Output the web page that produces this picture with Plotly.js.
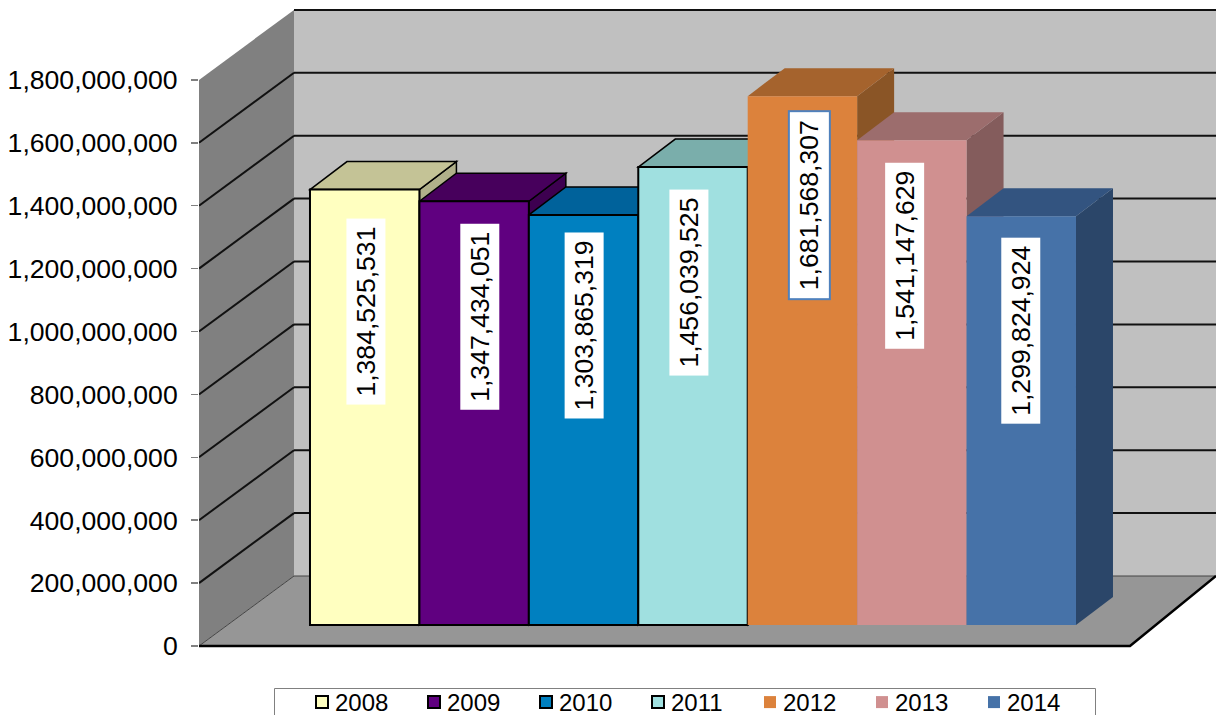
<!DOCTYPE html>
<html><head><meta charset="utf-8">
<script src="https://cdn.plot.ly/plotly-3.0.0.min.js"></script>
<style>html,body{margin:0;padding:0;background:#fff;overflow:hidden}</style>
</head><body><div id="chart" style="width:1216px;height:715px"></div>
<script>
const years = [2008, 2009, 2010, 2011, 2012, 2013, 2014];
const values = [1384525531, 1347434051, 1303865319, 1456039525, 1681568307, 1541147629, 1299824924];
const frontColors = ['#ffffc0', '#600080', '#0080c0', '#a0e0e0', '#dc823c', '#d09090', '#4672a8'];
const topColors = ['#c4c396', '#47005c', '#00629b', '#7aaeab', '#a5632d', '#9c6d6d', '#335480'];
const sideColors = ['#b0b08a', '#3d0050', '#00527f', '#6b9a98', '#8a5526', '#845c5c', '#2b4669'];
const outlineColors = ['#000000', '#000000', '#000000', '#000000', '#dc823c', '#d09090', '#4672a8'];
const outlineWidths = [2, 2, 2, 2, 0, 0, 0];
const tickValues = [0, 200000000, 400000000, 600000000, 800000000, 1000000000, 1200000000, 1400000000, 1600000000, 1800000000];
const labelDrop = [122, 116, 111, 115, 109, 115, 114];
const labelShift = [1.3, 5.4, 1, -4.5, 6.6, -7.4, -0.8];
const labelBorders = ['#ffffff', '#ffffff', '#ffffff', '#ffffff', '#4f81bd', '#ffffff', '#ffffff'];

// Scales: one year = 109.43 px, 200M = 62.9 px
const W = 1216, H = 715, L = 199, ZERO = 646, B = 662;
const pxPerYear = 109.43, pxPerUnit = 62.9 / 200000000;
const xOfPx = p => 2008 + (p - 364.7) / pxPerYear;
const xRange = [xOfPx(L), xOfPx(W)];
const yMax = ZERO / pxPerUnit, yMin = -(B - ZERO) / pxPerUnit;
const floorShift = 21 / pxPerUnit;
const dx = px => px / pxPerYear, dy = px => px / pxPerUnit;
const wallDX = dx(95), wallDY = dy(70), barDX = dx(37), barDY = dy(28);
const x0 = xRange[0], x1 = xRange[1];
const xBack = x0 + wallDX;
const xFloorEnd = x0 + dx(931);
const yTop = tickValues[tickValues.length - 1];

const poly = pts => 'M' + pts.map(p => p[0] + ',' + p[1]).join('L') + 'Z';
const shapes = [];
const add = (path, fill, color, width, yref) => shapes.push({
  type: 'path', path, xref: 'x', yref: yref || 'y', layer: 'below',
  fillcolor: fill, line: {color: color || 'rgba(0,0,0,0)', width: width || 0}
});
// walls and floor
add(poly([[xBack, wallDY], [x1, wallDY], [x1, yTop + wallDY], [xBack, yTop + wallDY]]), '#c0c0c0');
add(poly([[x0, 0], [xBack, wallDY], [xBack, yTop + wallDY], [x0, yTop]]), '#808080');
add(poly([[x0, 0], [xFloorEnd, 0], [x1, wallDY], [xBack, wallDY]]), '#969696');
// gridlines
tickValues.forEach((t, i) => {
  const c = i === 0 ? '#444444' : '#111111', w = i === 0 ? 1 : 2;
  if (i < tickValues.length - 1) add(`M${x0},${t}L${xBack},${t + wallDY}`, 'rgba(0,0,0,0)', c, w);
  add(`M${xBack},${t + wallDY}L${x1},${t + wallDY}`, 'rgba(0,0,0,0)', c, w);
});
// front floor edge
add(`M${x0},0L${xFloorEnd},0L${x1},${wallDY}`, 'rgba(0,0,0,0)', '#000000', 2.5);
// bar tops and sides
years.forEach((yr, i) => {
  const a = yr - 0.5, b = yr + 0.5, v = values[i];
  const lc = outlineColors[i], lw = outlineWidths[i] ? 1.5 : 0;
  add(poly([[b, 0], [b + barDX, barDY], [b + barDX, v + barDY], [b, v]]), sideColors[i], lw ? lc : null, lw, 'y2');
  add(poly([[a, v], [a + barDX, v + barDY], [b + barDX, v + barDY], [b, v]]), topColors[i], lw ? lc : null, lw, 'y2');
});
// legend frame
shapes.push({type: 'rect', xref: 'paper', yref: 'paper', layer: 'below',
  x0: (274.5 - L) / (W - L), x1: (1095.5 - L) / (W - L), y0: (B - 688.5) / B, y1: (B - 720) / B,
  fillcolor: '#ffffff', line: {color: '#808080', width: 1}});

const traces = years.map((yr, i) => ({
  type: 'bar', name: String(yr), x: [yr], y: [values[i]], width: 1, yaxis: 'y2',
  marker: {color: frontColors[i], line: {color: outlineColors[i], width: outlineWidths[i]}},
  hoverinfo: 'name+y'
}));

const annotations = years.map((yr, i) => ({
  x: yr, y: values[i], xref: 'x', yref: 'y2', yshift: -labelDrop[i], xshift: labelShift[i], showarrow: false,
  text: values[i].toLocaleString('en-US'), textangle: -90,
  font: {family: 'Liberation Sans, Arial, sans-serif', size: 26.6, color: '#000'},
  width: 178, height: 31, align: 'center', valign: 'middle',
  bgcolor: '#ffffff', bordercolor: labelBorders[i], borderwidth: labelBorders[i] === '#ffffff' ? 0 : 2, borderpad: 4
}));

const layout = {
  width: W, height: H, margin: {l: L, r: 0, t: 0, b: H - B, pad: 0, autoexpand: false},
  paper_bgcolor: '#fff', plot_bgcolor: 'rgba(0,0,0,0)', showlegend: true, barmode: 'overlay',
  font: {family: 'Liberation Sans, Arial, sans-serif', color: '#000'},
  xaxis: {range: xRange, showgrid: false, zeroline: false, showticklabels: false, ticks: '', showline: false, fixedrange: true},
  yaxis: {range: [yMin, yMax], tickmode: 'array', tickvals: tickValues, ticktext: tickValues.map(t => t.toLocaleString('en-US')),
    tickfont: {size: 26.6}, ticks: 'outside', ticklen: 7, tickcolor: '#808080', tickwidth: 1.5, ticklabelstandoff: 8,
    showgrid: false, zeroline: false, showline: false, fixedrange: true},
  yaxis2: {range: [yMin - floorShift, yMax - floorShift], overlaying: 'y', visible: false, fixedrange: true},
  legend: {orientation: 'h', x: (295 - L) / (W - L), xanchor: 'left', y: -(680 - B) / B, yanchor: 'top',
    borderwidth: 0, bgcolor: 'rgba(0,0,0,0)', font: {size: 24}, entrywidth: 67, entrywidthmode: 'pixels', traceorder: 'normal'},
  shapes, annotations
};
Plotly.newPlot('chart', traces, layout, {displayModeBar: false, staticPlot: true}).then(gd => {
  // tighten the gap between legend swatches and their labels
  gd.querySelectorAll('.legend .legendsymbols').forEach(s => s.setAttribute('transform', 'translate(7,0)'));
});
</script></body></html>
